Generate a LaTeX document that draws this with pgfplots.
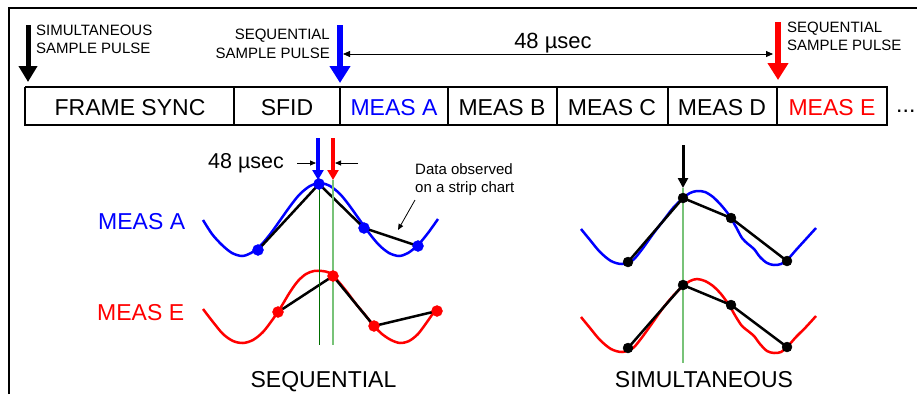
\documentclass[border=0pt]{standalone}
\usepackage{fontspec}
\setmainfont{Liberation Sans}
\usepackage{pgfplots}
\pgfplotsset{compat=1.18}
\usetikzlibrary{arrows.meta}
\definecolor{dgreen}{RGB}{0,110,0}
\definecolor{lgreen}{RGB}{120,195,120}
\newcommand{\fs}{\fontsize{15}{18}\selectfont}
\newcommand{\fb}{\fontsize{23}{27}\selectfont}
\newcommand{\fm}{\fontsize{21.5}{26}\selectfont}
\begin{document}
\begin{tikzpicture}
\begin{axis}[scale only axis, width=917pt, height=394pt,
  xmin=0, xmax=917, ymin=0, ymax=394, y dir=reverse, hide axis, clip=false]
% outer frame
\addplot[black, line width=2.5pt] coordinates {(9,394) (9,8) (917,8)};
% frame boxes
\addplot[black, line width=1.4pt] coordinates {(25,87) (887,87) (887,125) (25,125) (25,87)};
\addplot[black, line width=1.4pt] coordinates {(234,87) (234,125)};
\addplot[black, line width=1.4pt] coordinates {(340,87) (340,125)};
\addplot[black, line width=1.4pt] coordinates {(448,87) (448,125)};
\addplot[black, line width=1.4pt] coordinates {(557,87) (557,125)};
\addplot[black, line width=1.4pt] coordinates {(668,87) (668,125)};
\addplot[black, line width=1.4pt] coordinates {(777,87) (777,125)};
\node[anchor=base] at (axis cs:130,115) {\fb FRAME SYNC};
\node[anchor=base] at (axis cs:287,115) {\fb SFID};
\node[anchor=base, text=blue] at (axis cs:394,115) {\fb MEAS A};
\node[anchor=base] at (axis cs:502,115) {\fb MEAS B};
\node[anchor=base] at (axis cs:612,115) {\fb MEAS C};
\node[anchor=base] at (axis cs:722,115) {\fb MEAS D};
\node[anchor=base, text=red] at (axis cs:832,115) {\fb MEAS E};
\node[anchor=base west, inner sep=0pt] at (axis cs:896,112) {\fb ...};
% top arrows
\addplot[black, line width=5pt, -{Triangle[width=18pt,length=16pt]}] coordinates {(28,25) (28,82)};
\addplot[blue, line width=6pt, -{Triangle[width=20pt,length=17pt]}] coordinates {(340,25) (340,83)};
\addplot[red, line width=6pt, -{Triangle[width=20pt,length=17pt]}] coordinates {(778,22) (778,80)};
\addplot[black, line width=0.8pt, {Triangle[width=6pt,length=7pt]}-{Triangle[width=6pt,length=7pt]}] coordinates {(343,54) (773,54)};
\node[anchor=base west, inner sep=0pt] at (axis cs:36,35) {\fs SIMULTANEOUS};
\node[anchor=base west, inner sep=0pt] at (axis cs:36,53) {\fs SAMPLE PULSE};
\node[anchor=base east, inner sep=0pt] at (axis cs:330,39) {\fs SEQUENTIAL};
\node[anchor=base east, inner sep=0pt] at (axis cs:330,58) {\fs SAMPLE PULSE};
\node[anchor=base west, inner sep=0pt] at (axis cs:787,32) {\fs SEQUENTIAL};
\node[anchor=base west, inner sep=0pt] at (axis cs:787,50) {\fs SAMPLE PULSE};
\node[anchor=base, inner sep=0pt] at (axis cs:553,48) {\fontsize{22}{26}\selectfont 48 µsec};
% ---------------- sequential ----------------
\node[anchor=base west, inner sep=0pt, text=blue] at (axis cs:98,229) {\fb MEAS A};
\node[anchor=base west, inner sep=0pt, text=red] at (axis cs:97,320) {\fb MEAS E};
\node[anchor=base, inner sep=0pt] at (axis cs:323.5,387) {\fb SEQUENTIAL};
\node[anchor=base west, inner sep=0pt] at (axis cs:208,168) {\fm 48 µsec};
\node[anchor=base west, inner sep=0pt] at (axis cs:415,174) {\fs Data observed};
\node[anchor=base west, inner sep=0pt] at (axis cs:415,192) {\fs on a strip chart};
\addplot[black, line width=0.8pt, -{Triangle[width=5pt,length=6pt]}] coordinates {(297,163) (316,163)};
\addplot[black, line width=0.8pt, -{Triangle[width=5pt,length=6pt]}] coordinates {(358,163) (335,163)};
\addplot[black, line width=0.8pt, -{Triangle[width=5pt,length=6pt]}] coordinates {(415,200) (398,230)};
\addplot[blue, line width=3.5pt, -{Triangle[width=11pt,length=10pt]}] coordinates {(318,138) (318,180)};
\addplot[red, line width=3.5pt, -{Triangle[width=11pt,length=10pt]}] coordinates {(333,138) (333,180)};
% blue curve (sequential)
\addplot[blue, line width=2.5pt, smooth] coordinates {
(203,220) (212,234) (222,245) (232,253) (242,256) (251,253) (261,245) (271,233)
(281,219) (291,205) (300,194) (310,186) (320,183) (330,186) (340,194) (349,205)
(359,219) (369,233) (379,245) (389,253) (399,256) (408,253) (418,245) (428,233) (438,219)};
\addplot[black, line width=2.5pt] coordinates {(258,250) (319,184) (364,228) (418,246)};
\addplot[blue, only marks, mark=*, mark size=5.5pt] coordinates {(258,250) (319,184) (364,228) (418,246)};
% red curve (sequential)
\addplot[red, line width=2.5pt, smooth] coordinates {
(203,309) (213,322) (223,334) (233,341) (243,343) (253,340) (263,332) (273,319)
(281,307) (290,292) (298,281) (306,274) (314,271) (322,271) (330,273) (338,281)
(347,292) (356,304) (366,316) (374,326) (382,334) (391,340) (400,343) (409,341)
(418,334) (427,322) (436,309)};
\addplot[black, line width=2.5pt] coordinates {(278,312) (333,276) (374,326) (437,311)};
\addplot[red, only marks, mark=*, mark size=5.5pt] coordinates {(278,312) (333,276) (374,326) (437,311)};
\addplot[dgreen, line width=1pt] coordinates {(319,180) (319,345)};
\addplot[lgreen, line width=1.8pt] coordinates {(333,180) (333,345)};
% ---------------- simultaneous ----------------
\node[anchor=base, inner sep=0pt] at (axis cs:704,387) {\fb SIMULTANEOUS};
\addplot[black, line width=3pt, -{Triangle[width=10pt,length=10pt]}] coordinates {(683,145) (683,188)};
\addplot[blue, line width=2.5pt, smooth] coordinates {
(581,229) (590,240) (600,252) (611,261) (622,264) (633,260) (643,248) (653,234)
(663,221) (673,208) (683,198) (690,193) (697,191) (705,192) (713,197) (721,205)
(729,215) (736,227) (742,238) (748,244) (754,249) (760,257) (767,263) (774,265)
(781,264) (788,259) (796,250) (806,239) (816,228)};
\addplot[red, line width=2.5pt, smooth] coordinates {
(581,317) (590,328) (600,340) (611,349) (622,352) (633,348) (643,336) (653,322)
(663,308) (673,296) (683,286) (690,281) (697,279) (705,281) (713,286) (721,294)
(729,305) (736,317) (742,326) (748,331) (754,336) (760,344) (767,351) (774,353)
(781,352) (788,346) (796,337) (806,327) (816,316)};
\addplot[black, line width=2.5pt] coordinates {(628,262) (683,198) (731,218) (787,261)};
\addplot[black, line width=2.5pt] coordinates {(628,348) (683,285) (731,305) (787,347)};
\addplot[black, only marks, mark=*, mark size=5pt] coordinates {(628,262) (683,198) (731,218) (787,261)};
\addplot[black, only marks, mark=*, mark size=5pt] coordinates {(628,348) (683,285) (731,305) (787,347)};
\addplot[lgreen, line width=1.5pt] coordinates {(683,188) (683,363)};
\end{axis}
\pgfresetboundingbox
\path[use as bounding box] (current axis.south west) rectangle (current axis.north east);
\end{tikzpicture}
\end{document}
